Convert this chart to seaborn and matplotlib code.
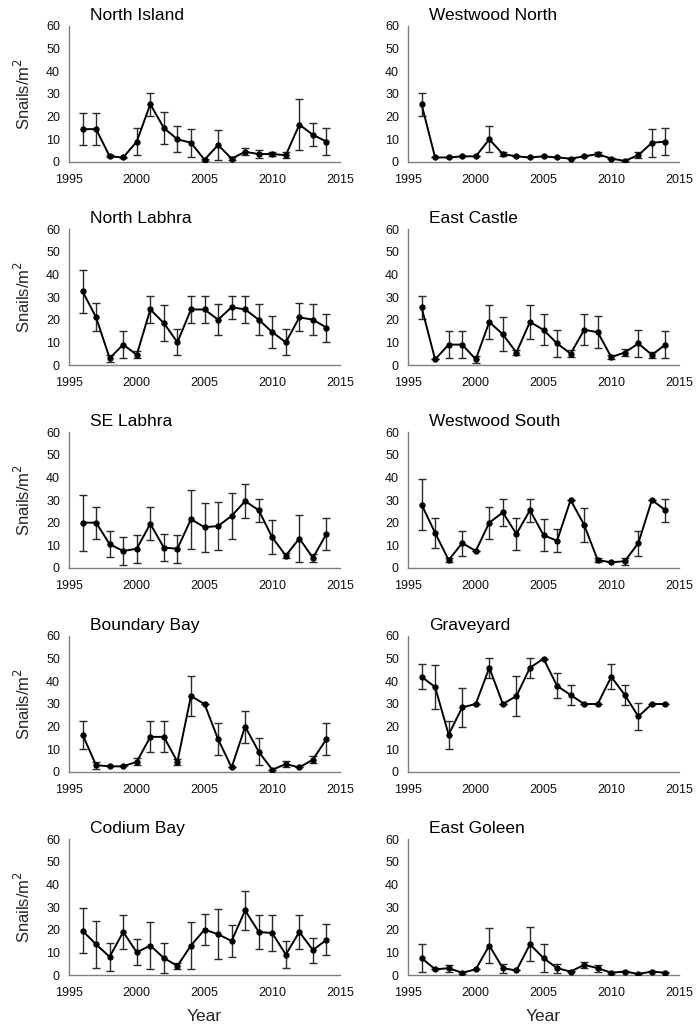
import numpy as np
import pandas as pd
import matplotlib
matplotlib.use("Agg")
import matplotlib.pyplot as plt
import seaborn as sns

years = list(range(1996, 2015))

sites = ["North Island", "Westwood North", "North Labhra", "East Castle",
         "SE Labhra", "Westwood South", "Boundary Bay", "Graveyard",
         "Codium Bay", "East Goleen"]

north_island_mean = [14.5, 14.5, 2.5, 2, 9, 25.5, 15, 10, 8.5, 1, 7.5, 1.5, 4.5, 3.5, 3.5, 3, 16.5, 12, 9]
north_island_err = [7, 7, 0.5, 0.4, 6, 5, 7, 5.7, 6.2, 0.5, 6.4, 0.5, 1.5, 1.8, 1, 1.3, 11.4, 5, 6]

westwood_north_mean = [25.5, 2, 2, 2.5, 2.5, 10, 3.5, 2.5, 2, 2.5, 2, 1.5, 2.5, 3.5, 1.5, 0.5, 3, 8.5, 9]
westwood_north_err = [5, 0, 0, 0, 0, 5.7, 1, 0, 0, 0, 0, 0.3, 0, 1, 0.3, 0, 1.3, 6.2, 6]

north_labhra_mean = [32.5, 21, 3, 9, 4.5, 24.5, 18.5, 10, 24.5, 24.5, 20, 25.5, 24.5, 20, 14.5, 10, 21, 20, 16.5]
north_labhra_err = [9.6, 6.2, 1.5, 6, 1.5, 6, 8, 5.7, 6, 6, 6.9, 5, 6, 6.9, 7, 5.7, 6.2, 6.9, 6.2]

east_castle_mean = [25.5, 2.5, 9, 9, 2.5, 19, 13.5, 5.5, 19, 15.5, 9.5, 5, 15.5, 14.5, 3.5, 5.5, 9.5, 4.5, 9]
east_castle_err = [5, 0, 6, 6, 1.5, 7.5, 7.5, 1.2, 7.5, 6.8, 6, 1.5, 6.8, 7.2, 1, 1.4, 6, 1.4, 6]

se_labhra_mean = [20, 20, 10.5, 7.5, 8.5, 19.5, 9, 8.5, 21.5, 18, 18.5, 23, 29.5, 25.5, 13.5, 5.5, 13, 4.5, 15]
se_labhra_err = [12.3, 7, 5.7, 6.3, 6.2, 7.3, 6, 6.2, 13, 10.8, 10.5, 10.2, 7.5, 5, 7.5, 1.3, 10.5, 1.7, 7]

westwood_south_mean = [28, 15.5, 3.5, 11, 7.5, 20, 24.5, 15, 25.5, 14.5, 12, 30, 19, 3.5, 2.5, 3, 11, 30, 25.5]
westwood_south_err = [11.3, 6.7, 1, 5.5, 0, 7, 6, 7, 5, 7.2, 5, 0, 7.5, 1, 0, 1.5, 5.5, 0, 5]

boundary_bay_mean = [16.5, 3, 2.5, 2.5, 4.5, 15.5, 15.5, 4.5, 33.5, 30, 14.5, 2, 20, 9, 1, 3.5, 2, 5.5, 14.5]
boundary_bay_err = [6.2, 1.5, 0, 0, 1.5, 6.8, 6.8, 1.4, 8.8, 0, 7.2, 0, 7, 6.1, 0, 1.2, 0, 1.4, 7.1]

graveyard_mean = [42, 37.5, 16.5, 28.5, 30, 46, 30, 33.5, 46, 50, 38, 34, 30, 30, 42, 34, 24.5, 30, 30]
graveyard_err = [5.5, 9.5, 6.2, 8.5, 0, 4.5, 0, 8.8, 4.5, 0, 5.5, 4.5, 0, 0, 5.5, 4.5, 6, 0, 0]

codium_bay_mean = [19.5, 13.5, 8, 19, 10, 13, 7.5, 4, 13, 20, 18, 15, 28.5, 19, 18.5, 9, 19, 11, 15.5]
codium_bay_err = [10, 10.4, 6.2, 7.6, 5.7, 10.5, 6.4, 1.5, 10.5, 6.9, 10.9, 7, 8.5, 7.6, 8, 6, 7.6, 5.5, 6.8]

east_goleen_mean = [7.5, 2.5, 3, 1, 2.5, 13, 3, 2, 13.5, 7.5, 3, 1.5, 4.5, 3, 1, 1.5, 0.5, 1.5, 1]
east_goleen_err = [6.3, 0, 1.5, 0.5, 0, 7.8, 2, 0, 7.5, 6.3, 2, 0.3, 1.4, 1.5, 0.5, 0.3, 0, 0.3, 0.3]

means = [north_island_mean, westwood_north_mean, north_labhra_mean, east_castle_mean,
         se_labhra_mean, westwood_south_mean, boundary_bay_mean, graveyard_mean,
         codium_bay_mean, east_goleen_mean]
errs = [north_island_err, westwood_north_err, north_labhra_err, east_castle_err,
        se_labhra_err, westwood_south_err, boundary_bay_err, graveyard_err,
        codium_bay_err, east_goleen_err]

x_ticks = [1995, 2000, 2005, 2010, 2015]
y_ticks = [0, 10, 20, 30, 40, 50, 60]

sns.set_style("white")
plt.rcParams['font.family'] = ['Liberation Sans', 'DejaVu Sans']

W, H = 696, 1028
fig = plt.figure(figsize=(W / 100, H / 100), dpi=100)

col_left = [69, 408]
ax_w = 271
ax_h = 136
row_bottom = [162, 365, 568, 772, 975]

spine_col = '#808080'
for i, site in enumerate(sites):
    r, c = divmod(i, 2)
    left = col_left[c] / W
    bottom = 1 - row_bottom[r] / H
    ax = fig.add_axes([left, bottom, ax_w / W, ax_h / H])
    df = pd.DataFrame({"Year": years, "Mean": means[i], "Err": errs[i]})
    ax.errorbar(df["Year"], df["Mean"], yerr=df["Err"], fmt='none',
                ecolor='#2a2a2a', elinewidth=1.0, capsize=3.2, capthick=1.0, zorder=2)
    sns.lineplot(data=df, x="Year", y="Mean", ax=ax, color='black', linewidth=1.4,
                 marker='o', markersize=3.8, markeredgecolor='black', zorder=3)
    ax.set_xlim(1995, 2015)
    ax.set_ylim(0, 60)
    ax.set_xticks(x_ticks)
    ax.set_yticks(y_ticks)
    ax.tick_params(axis='both', direction='out', length=3.5, width=1.0,
                   color=spine_col, labelsize=9, labelcolor='#111111', pad=3)
    ax.tick_params(axis='x', pad=5)
    for s in ['top', 'right']:
        ax.spines[s].set_visible(False)
    for s in ['left', 'bottom']:
        ax.spines[s].set_color(spine_col)
        ax.spines[s].set_linewidth(1.0)
    ax.set_xlabel("")
    ax.set_ylabel("")
    ax.text(0.077, 1.025, site, transform=ax.transAxes, fontsize=12.5,
            ha='left', va='bottom', color='black')
    if c == 0:
        ax.set_ylabel("Snails/m$^2$", fontsize=12, labelpad=9)
    if r == 4:
        ax.set_xlabel("Year", fontsize=12.5, labelpad=7)

fig.savefig("out.png", dpi=100, facecolor='white')
